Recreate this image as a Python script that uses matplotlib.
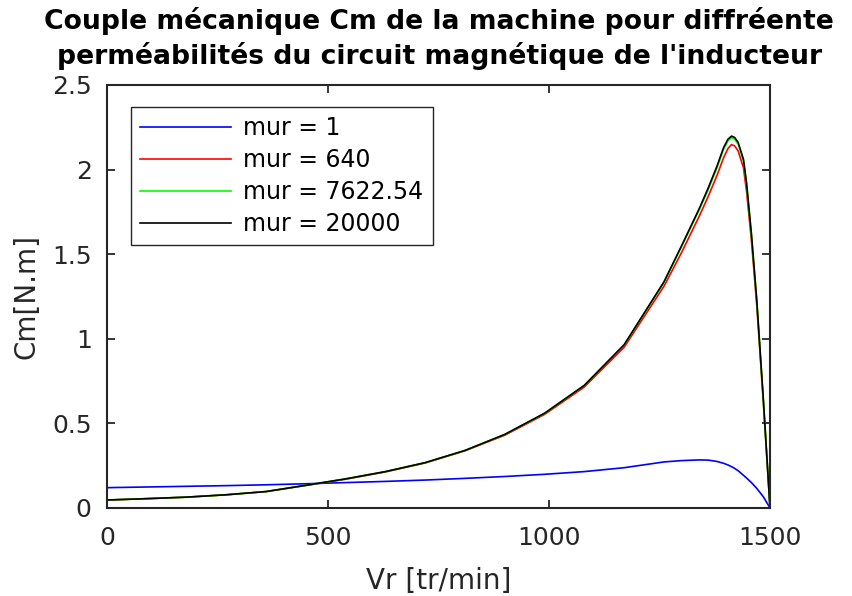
import matplotlib
matplotlib.use("Agg")
import matplotlib.pyplot as plt
from matplotlib.ticker import FormatStrFormatter, MultipleLocator

plt.rcParams["font.family"] = ["DejaVu Sans"]

# rotor speed samples [tr/min]
vr = [0, 90, 180, 270, 360, 450, 540, 630, 720, 810, 900, 990, 1080, 1170,
      1260, 1300, 1340, 1360, 1380, 1395, 1405, 1413, 1420, 1428, 1440, 1447,
      1458, 1470, 1485, 1500]

# mechanical torque [N.m] for each relative permeability
cm_mur1 = [0.120, 0.124, 0.128, 0.132, 0.137, 0.143, 0.150, 0.157, 0.165,
           0.175, 0.186, 0.199, 0.215, 0.238, 0.272, 0.280, 0.284, 0.283,
           0.275, 0.264, 0.254, 0.244, 0.234, 0.220, 0.193, 0.177, 0.150,
           0.116, 0.066, 0.0]
cm_mur640 = [0.047, 0.055, 0.064, 0.078, 0.097, 0.133, 0.170, 0.213, 0.266,
             0.338, 0.430, 0.553, 0.715, 0.950, 1.310, 1.510, 1.725, 1.840,
             1.965, 2.070, 2.125, 2.148, 2.140, 2.110, 2.010, 1.870, 1.580,
             1.200, 0.620, 0.0]
cm_mur7622 = [0.047, 0.055, 0.064, 0.078, 0.097, 0.134, 0.172, 0.215, 0.268,
              0.340, 0.434, 0.559, 0.724, 0.963, 1.333, 1.545, 1.763, 1.880,
              2.010, 2.120, 2.170, 2.188, 2.180, 2.150, 2.050, 1.910, 1.610,
              1.225, 0.637, 0.0]
cm_mur20000 = [0.047, 0.055, 0.064, 0.078, 0.097, 0.134, 0.172, 0.215, 0.268,
               0.340, 0.435, 0.560, 0.725, 0.965, 1.336, 1.550, 1.770, 1.890,
               2.020, 2.130, 2.180, 2.198, 2.190, 2.160, 2.060, 1.920, 1.620,
               1.230, 0.640, 0.0]

labels = ["mur = 1", "mur = 640", "mur = 7622.54", "mur = 20000"]
colors = ["#0000ff", "#ff0000", "#00ff00", "#000000"]

fig = plt.figure(figsize=(8.53, 5.96), dpi=100)
ax = fig.add_axes([0.1254, 0.1477, 0.7773, 0.7097])

for cm, label, color in zip([cm_mur1, cm_mur640, cm_mur7622, cm_mur20000],
                            labels, colors):
    ax.plot(vr, cm, color=color, lw=1.2, label=label)

ax.set_xlim(0, 1500)
ax.set_ylim(0, 2.5)
ax.xaxis.set_major_locator(MultipleLocator(500))
ax.yaxis.set_major_locator(MultipleLocator(0.5))
ax.yaxis.set_major_formatter(FormatStrFormatter("%g"))
ax.tick_params(direction="in", top=True, right=True, length=6, width=1.3,
               labelsize=18, colors="#262626")
ax.tick_params(axis="x", pad=13)
ax.tick_params(axis="y", pad=11)
for spine in ax.spines.values():
    spine.set_linewidth(1.5)
    spine.set_color("#262626")

ax.set_xlabel("Vr [tr/min]", fontsize=20, color="#262626", labelpad=12)
ax.set_ylabel("Cm[N.m]", fontsize=20, color="#262626", labelpad=8)

fig.text(0.515, 0.988, "Couple mécanique Cm de la machine pour diffréente\n"
         "perméabilités du circuit magnétique de l'inducteur",
         ha="center", va="top", fontsize=19.2, fontweight="bold",
         linespacing=1.3)

leg = ax.legend(loc="upper left", bbox_to_anchor=(0.036, 0.948), fontsize=17,
                handlelength=3.85, handletextpad=0.5, borderpad=0.4,
                labelspacing=0.33, fancybox=False, framealpha=1,
                edgecolor="#262626", borderaxespad=0)
leg.get_frame().set_linewidth(1.0)

fig.savefig("out.png", dpi=100)
